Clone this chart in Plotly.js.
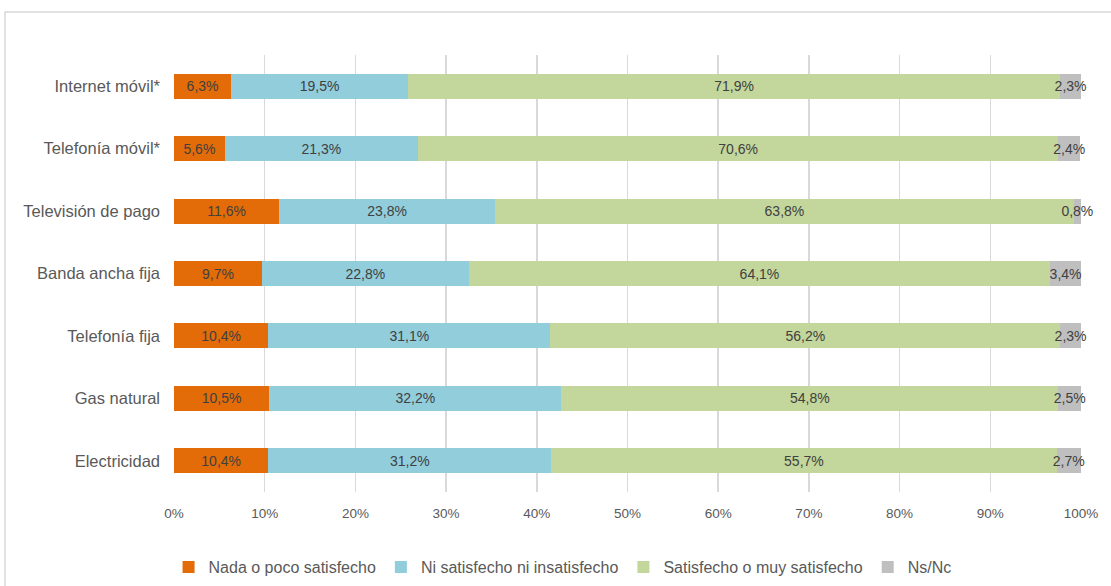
<!DOCTYPE html>
<html>
<head>
<meta charset="utf-8">
<script src="https://cdn.plot.ly/plotly-3.0.1.min.js"></script>
<style>html,body{margin:0;padding:0;background:#fff;}#chart{width:1111px;height:586px;}</style>
</head>
<body>
<div id="chart"></div>
<script>
const categories = ["Internet móvil*", "Telefonía móvil*", "Televisión de pago", "Banda ancha fija", "Telefonía fija", "Gas natural", "Electricidad"];
const nada = [6.3, 5.6, 11.6, 9.7, 10.4, 10.5, 10.4];
const ni = [19.5, 21.3, 23.8, 22.8, 31.1, 32.2, 31.2];
const satisfecho = [71.9, 70.6, 63.8, 64.1, 56.2, 54.8, 55.7];
const nsnc = [2.3, 2.4, 0.8, 3.4, 2.3, 2.5, 2.7];
const seriesNames = ["Nada o poco satisfecho", "Ni satisfecho ni insatisfecho", "Satisfecho o muy satisfecho", "Ns/Nc"];
const colors = ["#E36C09", "#92CDDC", "#C3D69B", "#BFBFBF"];
const xTicks = [0, 10, 20, 30, 40, 50, 60, 70, 80, 90, 100];
const xTickLabels = ["0%", "10%", "20%", "30%", "40%", "50%", "60%", "70%", "80%", "90%", "100%"];

const FONT = "'Liberation Sans', Arial, sans-serif";
const fmt = v => v.toFixed(1).replace('.', ',') + '%';

const data = [nada, ni, satisfecho, nsnc].map((vals, i) => ({
  type: 'bar',
  orientation: 'h',
  name: seriesNames[i],
  y: categories,
  x: vals,
  text: vals.map(fmt),
  textposition: 'inside',
  insidetextanchor: 'middle',
  textangle: 0,
  cliponaxis: false,
  constraintext: 'none',
  textfont: {family: FONT, size: 14, color: '#404040'},
  marker: {color: colors[i], line: {width: 0}},
  hoverinfo: 'skip'
}));

const layout = {
  width: 1111,
  height: 586,
  barmode: 'stack',
  bargap: 0.6,
  paper_bgcolor: '#ffffff',
  plot_bgcolor: '#ffffff',
  margin: {l: 174, r: 30, t: 55, b: 94, autoexpand: false},
  uniformtext: {minsize: 14, mode: 'show'},
  font: {family: FONT, color: '#595959'},
  xaxis: {
    range: [0, 100.001],
    tickvals: xTicks,
    ticktext: xTickLabels,
    showgrid: true,
    gridcolor: '#D9D9D9',
    gridwidth: 1.5,
    zeroline: false,
    showline: false,
    ticks: '',
    ticklabelstandoff: 11,
    tickfont: {family: FONT, size: 13.5, color: '#595959'},
    fixedrange: true
  },
  yaxis: {
    autorange: 'reversed',
    showgrid: false,
    zeroline: false,
    showline: false,
    ticks: '',
    ticklabelstandoff: 13,
    tickfont: {family: FONT, size: 16.5, color: '#595959'},
    fixedrange: true
  },
  showlegend: true,
  legend: {
    orientation: 'h',
    x: -0.006,
    xanchor: 'left',
    y: -0.172,
    yanchor: 'middle',
    traceorder: 'normal',
    font: {family: FONT, size: 16, color: '#595959'},
    itemclick: false,
    itemdoubleclick: false
  },
  shapes: [{
    type: 'rect',
    xref: 'paper', yref: 'paper',
    x0: (5 - 174) / 907, x1: (1118 - 174) / 907,
    y0: (492 - 600) / 437, y1: 1 + (55 - 12) / 437,
    line: {color: '#D9D9D9', width: 1.5},
    fillcolor: 'rgba(0,0,0,0)',
    layer: 'below'
  }]
};

Plotly.newPlot('chart', data, layout, {staticPlot: true, displayModeBar: false});
</script>
</body>
</html>
